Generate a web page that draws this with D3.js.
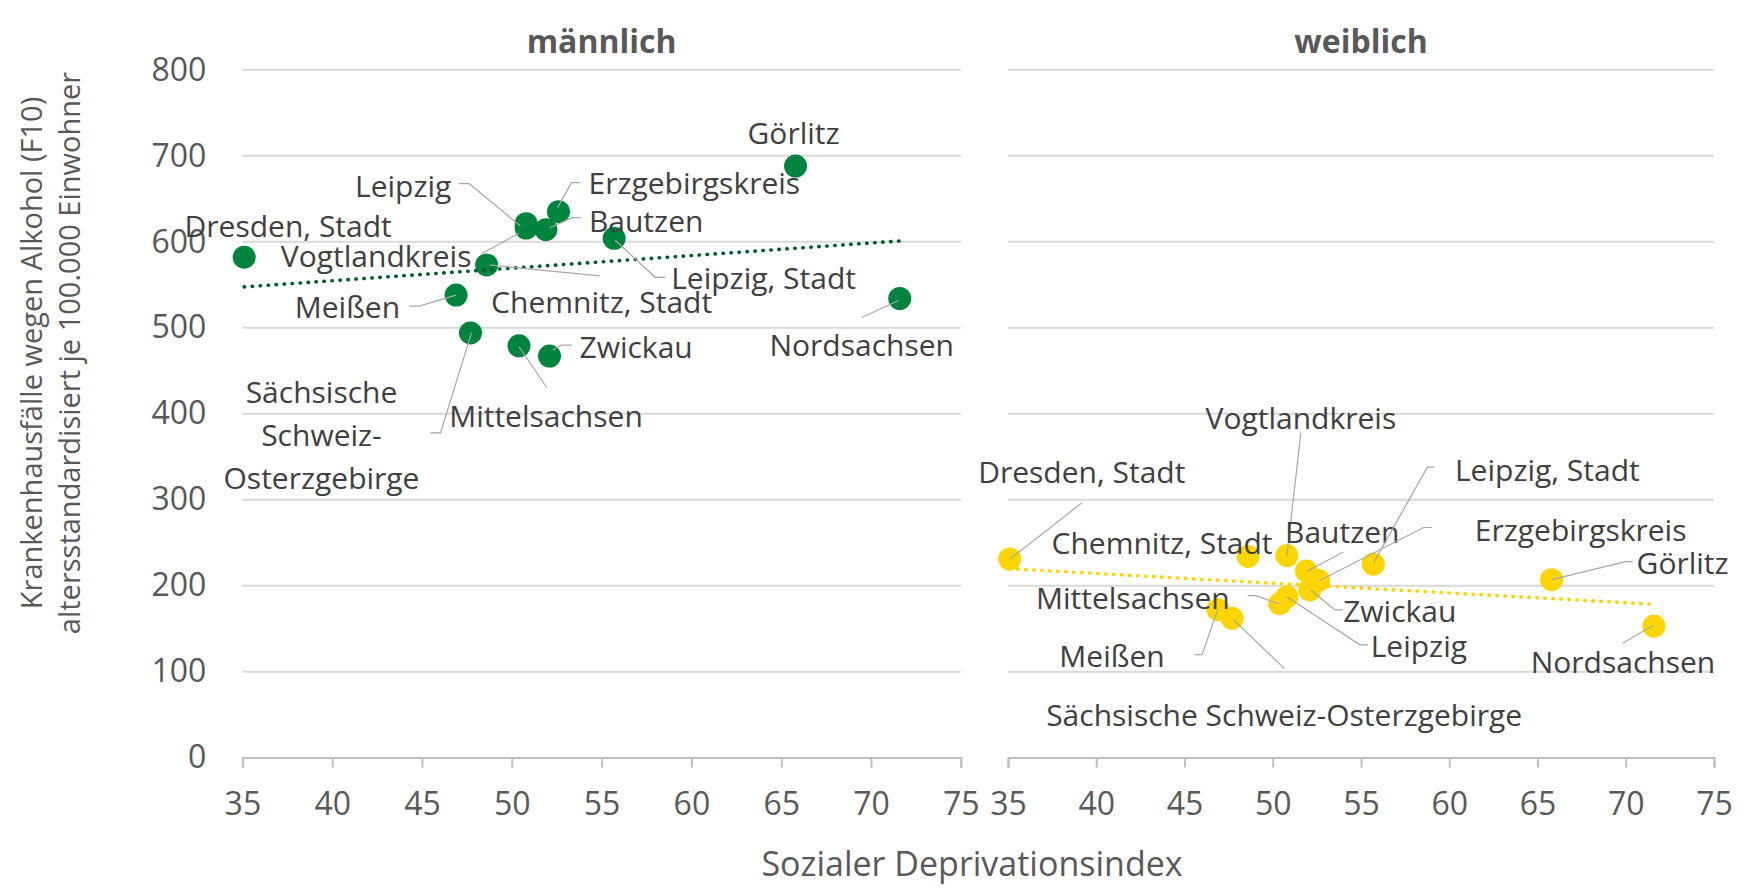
<!DOCTYPE html>
<html><head><meta charset="utf-8">
<script src="https://cdn.jsdelivr.net/npm/d3@7"></script>
<style>
html,body{margin:0;padding:0;background:#fff;}
svg{display:block;font-family:"Open Sans","Noto Sans",sans-serif;}
</style></head>
<body>
<svg id="chart" width="1760" height="890"></svg>
<script>
// ---------- DATA ----------
const districts = ["Dresden, Stadt","Meißen","Sächsische Schweiz-Osterzgebirge","Chemnitz, Stadt","Mittelsachsen","Leipzig","Vogtlandkreis","Bautzen","Zwickau","Erzgebirgskreis","Leipzig, Stadt","Görlitz","Nordsachsen"];
const deprivation = [35.1, 46.9, 47.7, 48.6, 50.4, 50.8, 50.8, 51.9, 52.1, 52.6, 55.7, 65.8, 71.6];
const maleRate    = [582, 538, 494, 573, 479, 621, 616, 614, 467, 635, 604, 688, 534];
const femaleRate  = [231, 172, 162, 234, 179, 187, 235, 217, 195, 206, 225, 207, 153];
const xTicks = [35, 40, 45, 50, 55, 60, 65, 70, 75];
const yTicks = [0, 100, 200, 300, 400, 500, 600, 700, 800];
const panelTitles = ["männlich", "weiblich"];
const yTitleLines = ["Krankenhausfälle wegen Alkohol (F10)", "altersstandardisiert je 100.000 Einwohner"];
const xTitle = "Sozialer Deprivationsindex";

// ---------- LAYOUT (label offsets relative to point, px) ----------
const maleLabels = {
  "Görlitz": {l:[-2,-33], a:"middle"},
  "Leipzig": {l:[-123,-37], a:"middle", p:[[-67,-40],[-57,-40],[-6,2]]},
  "Erzgebirgskreis": {l:[30,-28], a:"start", p:[[22,-29],[13,-29],[-1,-4]]},
  "Bautzen": {l:[43,-8], a:"start", p:[[35,-12],[26,-12],[4,-2]]},
  "Dresden, Stadt": {l:[44,-31], a:"middle"},
  "Vogtlandkreis": {l:[-150,29], a:"middle", p:[[-45,26],[-7,5]]},
  "Leipzig, Stadt": {l:[57,40], a:"start", p:[[51,39],[41,39],[1,2]]},
  "Chemnitz, Stadt": {l:[115,38], a:"middle", p:[[113,11],[3,0]]},
  "Meißen": {l:[-56,12], a:"end", p:[[-47,11],[-37,11],[0,0]]},
  "Nordsachsen": {l:[-38,47], a:"middle", p:[[-38,19],[-1,2]]},
  "Zwickau": {l:[30,-9], a:"start", p:[[22,-11],[12,-11],[3,-6]]},
  "Sächsische Schweiz-Osterzgebirge": {l:[-149,60], a:"middle", lines:["Sächsische","Schweiz-","Osterzgebirge"], lh:43, p:[[-40,100],[-30,100],[1,0]]},
  "Mittelsachsen": {l:[27,71], a:"middle", p:[[28,42],[0,1]]}
};
const femaleLabels = {
  "Vogtlandkreis": {l:[14,-137], a:"middle", p:[[14,-123],[0,0]]},
  "Dresden, Stadt": {l:[72,-86], a:"middle", p:[[72,-56],[0,0]]},
  "Leipzig, Stadt": {l:[174,-94], a:"middle", p:[[61,-97],[54,-97],[0,-1]]},
  "Chemnitz, Stadt": {l:[-86,-13], a:"middle"},
  "Bautzen": {l:[36,-39], a:"middle", p:[[37,-19],[1,0]]},
  "Erzgebirgskreis": {l:[262,-50], a:"middle", p:[[113,-53],[105,-53],[1,0]]},
  "Görlitz": {l:[131,-16], a:"middle", p:[[81,-18],[74,-18],[0,0]]},
  "Mittelsachsen": {l:[-147,-5], a:"middle", p:[[-32,-8],[-24,-8],[-1,0]]},
  "Zwickau": {l:[90,22], a:"middle", p:[[33,20],[25,20],[1,0]]},
  "Leipzig": {l:[132,50], a:"middle", p:[[81,48],[73,48],[0,0]]},
  "Meißen": {l:[-106,47], a:"middle", p:[[-23,45],[-16,45],[0,-1]]},
  "Nordsachsen": {l:[-31,36], a:"middle", p:[[-31,17],[0,-1]]},
  "Sächsische Schweiz-Osterzgebirge": {l:[52,97], a:"middle", p:[[52,50],[1,1]]}
};

// ---------- CHART ----------
const svg = d3.select("#chart");
const y = d3.scaleLinear().domain([0, 800]).range([757.6, 69.8]);
const panels = [
  {title: panelTitles[0], x: d3.scaleLinear().domain([35, 75]).range([242.4, 960.8]), values: maleRate,
   color: "#00843d", trend: "#005c2b", labels: maleLabels},
  {title: panelTitles[1], x: d3.scaleLinear().domain([35, 75]).range([1008, 1714]), values: femaleRate,
   color: "#ffd500", trend: "#ffd500", labels: femaleLabels}
];

const gridColor = "#d9d9d9", axisColor = "#bfbfbf", tickText = "#595959", labelText = "#404040";

panels.forEach((p, pi) => {
  const [x0, x1] = p.x.range();
  // gridlines
  svg.append("g").selectAll("line").data(yTicks.filter(t => t > 0)).join("line")
    .attr("x1", x0).attr("x2", x1).attr("y1", d => y(d)).attr("y2", d => y(d))
    .attr("stroke", gridColor).attr("stroke-width", 2);
  // x axis
  const gx = svg.append("g").attr("transform", `translate(0,${y(0)})`)
    .call(d3.axisBottom(p.x).tickValues(xTicks).tickSize(10).tickFormat(d3.format("d")));
  gx.select(".domain").attr("stroke", axisColor).attr("stroke-width", 2);
  gx.selectAll(".tick line").attr("stroke", axisColor).attr("stroke-width", 2);
  gx.selectAll(".tick text").attr("y", 57).attr("dy", 0)
    .attr("fill", tickText).style("font-size", "32px").style("font-family", "'Open Sans'");
  // y axis labels only on first panel
  if (pi === 0) {
    const gy = svg.append("g").attr("transform", `translate(${x0},0)`)
      .call(d3.axisLeft(y).tickValues(yTicks).tickSize(0).tickPadding(36));
    gy.select(".domain").remove();
    gy.selectAll(".tick text").attr("fill", tickText).style("font-size", "32px").style("font-family", "'Open Sans'");
  }
  // title
  svg.append("text").attr("x", (x0 + x1) / 2).attr("y", 53).attr("text-anchor", "middle")
    .attr("fill", tickText).style("font-size", "32px").style("font-weight", "bold").text(p.title);

  const pts = districts.map((name, i) => ({name, dx: deprivation[i], v: p.values[i]}));
  // points
  svg.append("g").selectAll("circle").data(pts).join("circle")
    .attr("cx", d => p.x(d.dx)).attr("cy", d => y(d.v)).attr("r", 11.5).attr("fill", p.color);
  // linear trend (least squares)
  const mx = d3.mean(pts, d => d.dx), my = d3.mean(pts, d => d.v);
  const slope = d3.sum(pts, d => (d.dx - mx) * (d.v - my)) / d3.sum(pts, d => (d.dx - mx) ** 2);
  const ext = d3.extent(pts, d => d.dx);
  svg.append("line")
    .attr("x1", p.x(ext[0])).attr("y1", y(my + slope * (ext[0] - mx)))
    .attr("x2", p.x(ext[1])).attr("y2", y(my + slope * (ext[1] - mx)))
    .attr("stroke", p.trend).attr("stroke-width", 3.6).attr("stroke-linecap", "round")
    .attr("stroke-dasharray", "0.4 7.6");
  // leader lines + labels
  const lg = svg.append("g");
  pts.forEach(d => {
    const L = p.labels[d.name];
    if (!L) return;
    const px = p.x(d.dx), py = y(d.v);
    if (L.p) {
      lg.append("polyline")
        .attr("points", L.p.map(q => `${px + q[0]},${py + q[1]}`).join(" "))
        .attr("fill", "none").attr("stroke", "#a6a6a6").attr("stroke-width", 1.2);
    }
    const lines = L.lines || [d.name];
    const lh = L.lh || 0;
    lines.forEach((t, k) => {
      lg.append("text").attr("x", px + L.l[0]).attr("y", py + L.l[1] + k * lh + 10.5)
        .attr("text-anchor", L.a).attr("fill", labelText).style("font-size", "30px").text(t);
    });
  });
});

// axis titles
svg.append("text").attr("x", 972).attr("y", 876).attr("text-anchor", "middle")
  .attr("fill", tickText).style("font-size", "34px").text(xTitle);
const yt = svg.append("g").attr("transform", "translate(0,353) rotate(-90)");
yTitleLines.forEach((t, k) => {
  yt.append("text").attr("x", 0).attr("y", 42 + k * 38).attr("text-anchor", "middle")
    .attr("fill", tickText).style("font-size", "29px").text(t);
});
</script>
</body></html>
